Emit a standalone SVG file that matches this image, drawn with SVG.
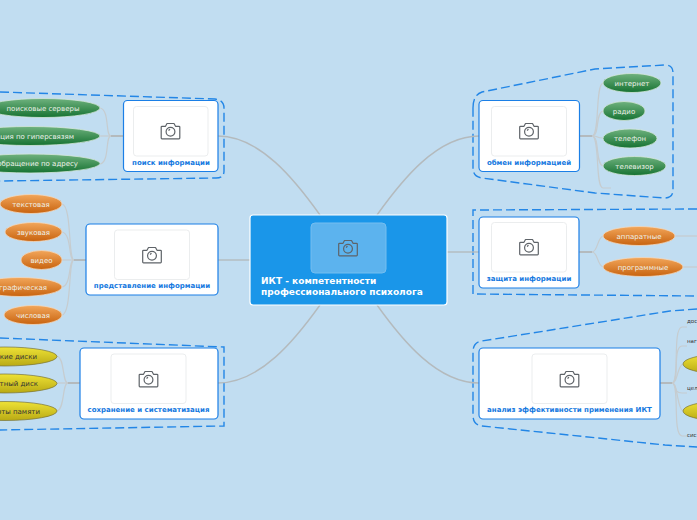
<svg xmlns="http://www.w3.org/2000/svg" xmlns:xlink="http://www.w3.org/1999/xlink" width="697" height="520" viewBox="0 0 697 520">
<style>
text{font-family:"DejaVu Sans",Verdana,sans-serif}
.c{fill:none;stroke:#b4babd;stroke-width:1.4}
.t{fill:none;stroke:#b4babd;stroke-width:2}
.l{fill:none;stroke:#c6cccf;stroke-width:1.2}
.b{fill:none;stroke:#2386e6;stroke-width:1.4;stroke-dasharray:9 4}
.n{fill:#fff;stroke:#1b7fe6;stroke-width:1.2}
.i{fill:#fff;stroke:#ebedee;stroke-width:1}
.nt{font-size:7px;font-weight:700;fill:#1478e0;text-anchor:middle}
.g{fill:url(#gg);stroke:#d4e6da;stroke-width:.8}
.o{fill:url(#go);stroke:#f0d8c0;stroke-width:.8}
.y{fill:url(#gy);stroke:#77733a;stroke-width:.7}
.lt{font-size:7px;fill:#eef2ea;text-anchor:middle}
.lk{font-size:7px;fill:#333;text-anchor:middle}
.sm{font-size:5.500px;fill:#333;text-anchor:start}
.e{text-anchor:end}
</style>
<defs>
<linearGradient id="gg" x1="0" y1="0" x2="0" y2="1"><stop offset="0" stop-color="#6fb27e"/><stop offset="1" stop-color="#167232"/></linearGradient>
<linearGradient id="go" x1="0" y1="0" x2="0" y2="1"><stop offset="0" stop-color="#f2a65a"/><stop offset="1" stop-color="#c8630f"/></linearGradient>
<linearGradient id="gy" x1="0" y1="0" x2="0" y2="1"><stop offset="0" stop-color="#eee236"/><stop offset="1" stop-color="#b9aa14"/></linearGradient>
<g id="cam" fill="none" stroke="#5e6368" stroke-width="1.2" stroke-linejoin="round">
<path d="M-8.5-4.700h3.500l1.500-2.800h7l1.500 2.800h3.500a.8.8 0 0 1 .8.8v10.900a.8.8 0 0 1-.8.8h-17a.8.8 0 0 1-.8-.8v-10.900a.8.8 0 0 1 .8-.8z"/>
<circle cx="0" cy=".8" r="4.400"/><path d="M-2-.5l1.500-1.200"/>
</g>
</defs>
<rect width="697" height="520" fill="#c1ddf1"/>

<g id="boundaries">
<path class="b" d="M0 92L215 99Q224 100 224 108V171Q224 178 216 178L0 181"/>
<path class="b" d="M0 338L224 347V426L0 430"/>
<path class="b" d="M473 108Q473 95 482 92L595 69L665 65Q673 65 673 73V190Q673 198 664 198L595 193L482 178Q473 177 473 168Z"/>
<path class="b" d="M697 209L473 210V294L697 296"/>
<path class="b" d="M697 309L670 311L482 341Q473 342 473 352V415Q473 425 482 426L665 445L697 447"/>
</g>

<g id="connectors">
<path class="c" d="M320 215C295 180 260 136 218 136"/>
<path class="c" d="M250 260H218"/>
<path class="c" d="M320 305C295 340 260 383 218 383"/>
<path class="c" d="M377 215C402 180 437 136 479 136"/>
<path class="c" d="M447 252H479"/>
<path class="c" d="M377 305C402 340 437 383 479 383"/>
<path class="t" d="M123 136H111"/><path class="t" d="M86 260H74"/><path class="t" d="M80 383H68"/>
<path class="t" d="M579 136H592"/><path class="t" d="M579 252H592"/><path class="t" d="M660 383H672"/>
<path class="l" d="M111 136C105 136 110 110 100 108"/><path class="l" d="M111 136H100"/><path class="l" d="M111 136C105 136 110 162 100 164"/>
<path class="l" d="M74 260C68 260 72 206 62 204"/><path class="l" d="M74 260C68 260 72 234 62 232"/><path class="l" d="M74 260H62"/><path class="l" d="M74 260C68 260 72 285 62 287"/><path class="l" d="M74 260C68 260 72 313 62 315"/>
<path class="l" d="M68 383C62 383 65 358 57 356"/><path class="l" d="M68 383H57"/><path class="l" d="M68 383C62 383 65 409 57 411"/>
<path class="l" d="M592 136C600 136 595 85 603 83"/><path class="l" d="M592 136C600 136 595 113 603 111"/><path class="l" d="M592 136C600 136 595 138 603 138"/><path class="l" d="M592 136C600 136 595 164 603 166"/><path class="l" d="M592 136C600 136 595 188 603 188H611"/>
<path class="l" d="M592 252C598 252 597 238 603 236"/><path class="l" d="M592 252C598 252 597 265 603 267"/><path class="l" d="M675 236H697"/><path class="l" d="M683 267H697"/>
<path class="l" d="M672 383C680 383 672 328 682 327H687"/><path class="l" d="M672 383C680 383 672 347 682 346H687"/><path class="l" d="M672 383C678 383 677 366 683 364"/><path class="l" d="M672 383C678 383 672 393 682 393H687"/><path class="l" d="M672 383C678 383 677 409 683 411"/><path class="l" d="M672 383C680 383 672 435 682 436H687"/>
</g>

<g id="center">
<rect x="250" y="215" width="197" height="90" rx="3" fill="#1a96e9" stroke="#fff" stroke-width="1.2"/>
<rect x="311" y="223" width="75" height="50" rx="4" fill="#5cb3ee" stroke="#74bef0" stroke-width="1"/>
<use href="#cam" x="348" y="248"/>
<text x="261" y="284" font-size="9.030" font-weight="700" fill="#fff">ИКТ - компетентности</text>
<text x="261" y="295" font-size="9.030" font-weight="700" fill="#fff">профессионального психолога</text>
</g>

<g id="n-poisk"><rect class="n" x="123.500" y="100.500" width="94.500" height="71" rx="4"/><rect class="i" x="133.500" y="106.500" width="74.500" height="49.500" rx="3"/><use href="#cam" x="170.500" y="131"/><text class="nt" x="171" y="165">поиск информации</text></g>
<g id="n-predst"><rect class="n" x="86" y="224" width="132" height="71" rx="4"/><rect class="i" x="114.500" y="230" width="75" height="49.500" rx="3"/><use href="#cam" x="152" y="255"/><text class="nt" x="152" y="288">представление информации</text></g>
<g id="n-sohr"><rect class="n" x="80" y="348" width="138" height="71" rx="4"/><rect class="i" x="111" y="354" width="75" height="49.500" rx="3"/><use href="#cam" x="148.500" y="379"/><text class="nt" x="148.500" y="412">сохранение и систематизация</text></g>
<g id="n-obmen"><rect class="n" x="479" y="100.500" width="100.500" height="71" rx="4"/><rect class="i" x="491.500" y="106.500" width="75" height="49.500" rx="3"/><use href="#cam" x="529" y="131"/><text class="nt" x="529" y="165">обмен информацией</text></g>
<g id="n-zash"><rect class="n" x="479" y="217" width="100" height="71" rx="4"/><rect class="i" x="491.500" y="222.500" width="75" height="49.500" rx="3"/><use href="#cam" x="529" y="247"/><text class="nt" x="529" y="281">защита информации</text></g>
<g id="n-analiz"><rect class="n" x="479" y="348" width="181" height="71" rx="4"/><rect class="i" x="532" y="354" width="75" height="49.500" rx="3"/><use href="#cam" x="569.500" y="379"/><text class="nt" x="569.500" y="412">анализ эффективности применения ИКТ</text></g>

<g id="l1"><ellipse class="g" cx="43" cy="108" rx="57" ry="9.500"/><text class="lt" x="43" y="110.500">поисковые серверы</text></g>
<g id="l2"><ellipse class="g" cx="30" cy="136" rx="70" ry="9.500"/><text class="lt e" x="74" y="138.500">ация по гиперсвязям</text></g>
<g id="l3"><ellipse class="g" cx="30" cy="163.500" rx="70" ry="9.500"/><text class="lt e" x="78" y="166">обращение по адресу</text></g>
<g id="l4"><ellipse class="o" cx="31" cy="204" rx="31" ry="9.500"/><text class="lt" x="31" y="206.500">текстовая</text></g>
<g id="l5"><ellipse class="o" cx="33.500" cy="232" rx="28.500" ry="9.500"/><text class="lt" x="33.500" y="234.500">звуковая</text></g>
<g id="l6"><ellipse class="o" cx="41.500" cy="260" rx="20.500" ry="9.500"/><text class="lt" x="41.500" y="262.500">видео</text></g>
<g id="l7"><ellipse class="o" cx="20" cy="287" rx="42" ry="9.500"/><text class="lt e" x="47" y="289.500">графическая</text></g>
<g id="l8"><ellipse class="o" cx="33" cy="315" rx="29" ry="9.500"/><text class="lt" x="33" y="317.500">числовая</text></g>
<g id="l9"><ellipse class="y" cx="5" cy="356.500" rx="52" ry="9.500"/><text class="lk e" x="37" y="359">кие диски</text></g>
<g id="l10"><ellipse class="y" cx="5" cy="383.500" rx="52" ry="9.500"/><text class="lk e" x="38" y="386">тный диск</text></g>
<g id="l11"><ellipse class="y" cx="5" cy="411" rx="52" ry="9.500"/><text class="lk e" x="40" y="413.500">оты памяти</text></g>
<g id="r1"><ellipse class="g" cx="632" cy="83" rx="29" ry="9.500"/><text class="lt" x="632" y="85.500">интернет</text></g>
<g id="r2"><ellipse class="g" cx="624" cy="111" rx="21" ry="9.500"/><text class="lt" x="624" y="113.500">радио</text></g>
<g id="r3"><ellipse class="g" cx="630" cy="138.500" rx="27" ry="9.500"/><text class="lt" x="630" y="141">телефон</text></g>
<g id="r4"><ellipse class="g" cx="634.500" cy="166" rx="31.500" ry="9.500"/><text class="lt" x="634.500" y="168.500">телевизор</text></g>
<g id="r5"><ellipse class="o" cx="639" cy="236" rx="36" ry="9.500"/><text class="lt" x="639" y="238.500">аппаратные</text></g>
<g id="r6"><ellipse class="o" cx="643" cy="267" rx="40" ry="9.500"/><text class="lt" x="643" y="269.500">программные</text></g>
<g id="r7"><ellipse class="y" cx="720" cy="364" rx="37" ry="9.500"/></g>
<g id="r8"><ellipse class="y" cx="720" cy="411" rx="37" ry="9.500"/></g>
<text class="sm" x="687" y="323">дос</text>
<text class="sm" x="687" y="343">наг</text>
<text class="sm" x="687" y="390">цел</text>
<text class="sm" x="687" y="437">сис</text>
</svg>
